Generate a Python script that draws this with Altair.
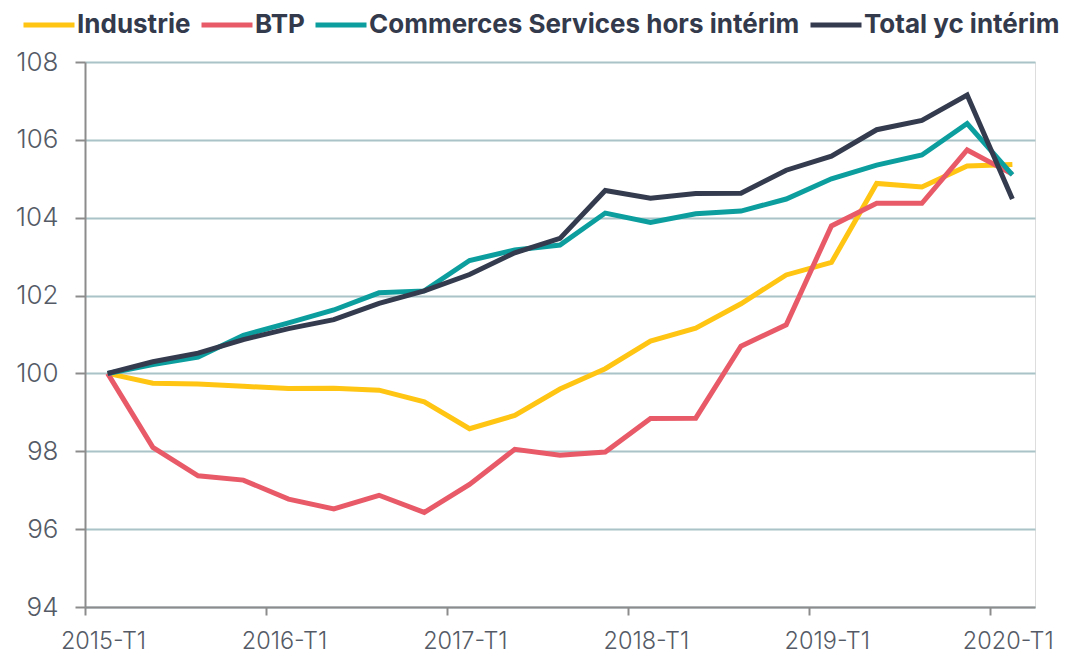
import altair as alt
import pandas as pd

quarters = list(range(21))  # 2015-T1 .. 2020-T1
x_tick_labels = ["2015-T1", "2016-T1", "2017-T1", "2018-T1", "2019-T1", "2020-T1"]
series_names = ["Industrie", "BTP", "Commerces Services hors intérim", "Total yc intérim"]
series_colors = ["#FFC512", "#E95A68", "#0C9E9E", "#343B4E"]

industrie = [100, 99.75, 99.73, 99.67, 99.61, 99.62, 99.57, 99.27, 98.58, 98.92, 99.60,
             100.12, 100.83, 101.16, 101.79, 102.53, 102.85, 104.88, 104.79, 105.33, 105.37]
btp = [100, 98.10, 97.37, 97.26, 96.77, 96.52, 96.87, 96.43, 97.15, 98.05, 97.90,
       97.98, 98.84, 98.85, 100.70, 101.25, 103.79, 104.37, 104.37, 105.74, 105.12]
commerces = [100, 100.23, 100.42, 100.98, 101.30, 101.63, 102.07, 102.12, 102.90, 103.17, 103.30,
             104.12, 103.88, 104.10, 104.17, 104.48, 105.00, 105.35, 105.61, 106.42, 105.10]
total = [100, 100.30, 100.52, 100.87, 101.15, 101.38, 101.80, 102.12, 102.54, 103.10, 103.47,
         104.70, 104.50, 104.62, 104.63, 105.22, 105.58, 106.26, 106.50, 107.15, 104.48]

rows = []
for name, vals in zip(series_names, [industrie, btp, commerces, total]):
    for q, v in zip(quarters, vals):
        rows.append({"q": q, "serie": name, "valeur": v})
df = pd.DataFrame(rows)

label_array = "[" + ",".join("'" + s + "'" for s in x_tick_labels) + "]"
tick_vals = [i * 4 - 0.5 for i in range(len(x_tick_labels))]

FONT = "Inter"

chart = alt.Chart(df).mark_line(strokeWidth=5, strokeJoin="miter").encode(
    x=alt.X("q:Q",
            scale=alt.Scale(domain=[-0.5, 20.5], nice=False, zero=False),
            axis=alt.Axis(values=tick_vals, labelExpr=label_array + "[round((datum.value + 0.5) / 4)]",
                          title=None, grid=False, domainColor="#8c8c8c", domainWidth=2,
                          tickColor="#8c8c8c", tickWidth=2, tickSize=8,
                          labelFont=FONT, labelFontSize=23.5, labelFontWeight=300,
                          labelColor="#555b66", labelPadding=14, labelOffset=18,
                          labelFlush=False, labelBound=False, labelOverlap=False)),
    y=alt.Y("valeur:Q",
            scale=alt.Scale(domain=[94, 108], nice=False, zero=False),
            axis=alt.Axis(values=list(range(94, 109, 2)), title=None, grid=True,
                          gridColor="#A9C3C8", gridWidth=2,
                          domainColor="#8c8c8c", domainWidth=2,
                          tickColor="#8c8c8c", tickWidth=2, tickSize=10,
                          labelFont=FONT, labelFontSize=26, labelFontWeight=300,
                          labelColor="#555b66", labelPadding=17)),
    color=alt.Color("serie:N",
                    scale=alt.Scale(domain=series_names, range=series_colors),
                    sort=series_names,
                    legend=alt.Legend(title=None, orient="none", direction="horizontal",
                                      legendX=-64, legendY=-65,
                                      symbolType="stroke", symbolSize=2601, symbolStrokeWidth=5,
                                      labelFont=FONT, labelFontSize=26, labelFontWeight="bold",
                                      labelColor="#333A4B", labelOffset=0, columnPadding=0,
                                      labelLimit=600)),
    order=alt.Order("q:Q"),
).properties(
    width=950, height=545,
    autosize=alt.AutoSizeParams(type="none"),
    padding={"left": 77, "top": 54, "right": 30, "bottom": 48},
).configure_view(stroke=None).configure(background="white")

chart.save("out.html", embed_options={"renderer": "svg", "actions": False})
